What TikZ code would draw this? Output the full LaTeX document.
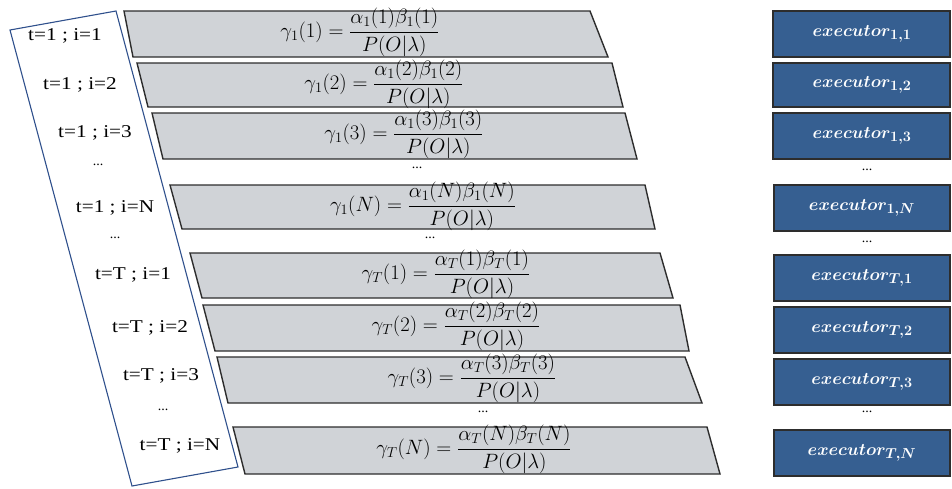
\documentclass[tikz,border=0pt]{standalone}
\usepackage[no-math]{fontspec}
\usepackage{graphicx}
\setmainfont{Liberation Serif}
\newcommand{\lab}[1]{\scalebox{1.18}[1]{#1}}
\begin{document}
\begin{tikzpicture}[x=1pt,y=-1pt,
  graybox/.style={fill=boxgray,draw=edgegray,line width=1.4pt,line join=miter},
  bluebox/.style={fill=exblue,draw=edgegray,line width=1.4pt},
  lbl/.style={font=\fontsize{18}{20}\selectfont,inner sep=0pt},
  frm/.style={font=\fontsize{20}{22}\selectfont,inner sep=0pt},
  dots/.style={font=\fontsize{14}{15}\selectfont,inner sep=0pt},
  ex/.style={font=\fontsize{19}{21}\selectfont\boldmath,text=white,inner sep=0pt}]
\definecolor{boxgray}{RGB}{208,211,215}
\definecolor{edgegray}{RGB}{45,45,45}
\definecolor{exblue}{RGB}{54,95,145}
\definecolor{frameblue}{RGB}{47,80,140}
\useasboundingbox (0,0) rectangle (952,488);
% left frame
\draw[frameblue,line width=1.1pt] (10,30) -- (116,11) -- (238,467) -- (132,486) -- cycle;
% gray rows
\draw[graybox] (124,11) -- (590,11) -- (608,57) -- (133,57) -- cycle;
\draw[graybox] (137,63) -- (612,63) -- (623,107) -- (148,107) -- cycle;
\draw[graybox] (152,113) -- (625,113) -- (637,159) -- (163,159) -- cycle;
\draw[graybox] (170,185) -- (645,185) -- (655,229) -- (182,229) -- cycle;
\draw[graybox] (190,253) -- (660,253) -- (673,298) -- (202,298) -- cycle;
\draw[graybox] (203,305) -- (680,305) -- (689,351) -- (215,351) -- cycle;
\draw[graybox] (217,357) -- (685,357) -- (702,403) -- (228,403) -- cycle;
\draw[graybox] (233,427) -- (707,427) -- (720,474) -- (245,474) -- cycle;
% formulas
\node[frm] (f1) at (360,32) {$\displaystyle \gamma_1(1)=\frac{\alpha_1(1)\beta_1(1)}{P(O|\lambda)}$};
\node[frm] (f2) at (384,84) {$\displaystyle \gamma_1(2)=\frac{\alpha_1(2)\beta_1(2)}{P(O|\lambda)}$};
\node[frm] (f3) at (404,134) {$\displaystyle \gamma_1(3)=\frac{\alpha_1(3)\beta_1(3)}{P(O|\lambda)}$};
\node[dots] (d1) at (417,168) {...};
\node[frm] (fN) at (423,206) {$\displaystyle \gamma_1(N)=\frac{\alpha_1(N)\beta_1(N)}{P(O|\lambda)}$};
\node[dots] (d2) at (430,238) {...};
\node[frm] (fT1) at (446,274) {$\displaystyle \gamma_T(1)=\frac{\alpha_T(1)\beta_T(1)}{P(O|\lambda)}$};
\node[frm] (fT2) at (456,326) {$\displaystyle \gamma_T(2)=\frac{\alpha_T(2)\beta_T(2)}{P(O|\lambda)}$};
\node[frm] (fT3) at (472,378) {$\displaystyle \gamma_T(3)=\frac{\alpha_T(3)\beta_T(3)}{P(O|\lambda)}$};
\node[dots] (d3) at (483,412) {...};
\node[frm] (fTN) at (474,449) {$\displaystyle \gamma_T(N)=\frac{\alpha_T(N)\beta_T(N)}{P(O|\lambda)}$};
% left labels
\node[lbl] (l1) at (65,36) {\lab{t=1 ; i=1}};
\node[lbl] (l2) at (80,85) {\lab{t=1 ; i=2}};
\node[lbl] (l3) at (95,133) {\lab{t=1 ; i=3}};
\node[dots] (ld1) at (98,165) {...};
\node[lbl] (lN) at (115,208) {\lab{t=1 ; i=N}};
\node[dots] (ld2) at (115,238) {...};
\node[lbl] (lT1) at (133,275) {\lab{t=T ; i=1}};
\node[lbl] (lT2) at (150,328) {\lab{t=T ; i=2}};
\node[lbl] (lT3) at (161,376) {\lab{t=T ; i=3}};
\node[dots] (ld3) at (163,410) {...};
\node[lbl] (lTN) at (180,446) {\lab{t=T ; i=N}};
% executors
\draw[bluebox] (773,11) rectangle (950,57);
\draw[bluebox] (773,63) rectangle (950,107);
\draw[bluebox] (773,113) rectangle (950,159);
\draw[bluebox] (774,185) rectangle (950,231);
\draw[bluebox] (774,255) rectangle (950,301);
\draw[bluebox] (774,307) rectangle (950,353);
\draw[bluebox] (774,359) rectangle (950,405);
\draw[bluebox] (774,430) rectangle (950,476);
\node[ex] (e1) at (862,34) {$executor_{1,1}$};
\node[ex] (e2) at (862,85) {$executor_{1,2}$};
\node[ex] (e3) at (862,136) {$executor_{1,3}$};
\node[dots] (ed1) at (867,170) {...};
\node[ex] (eN) at (862,208) {$executor_{1,N}$};
\node[dots] (ed2) at (867,242) {...};
\node[ex] (eT1) at (862,278) {$executor_{T,1}$};
\node[ex] (eT2) at (862,330) {$executor_{T,2}$};
\node[ex] (eT3) at (862,382) {$executor_{T,3}$};
\node[dots] (ed3) at (867,412) {...};
\node[ex] (eTN) at (862,453) {$executor_{T,N}$};
\end{tikzpicture}
\end{document}
